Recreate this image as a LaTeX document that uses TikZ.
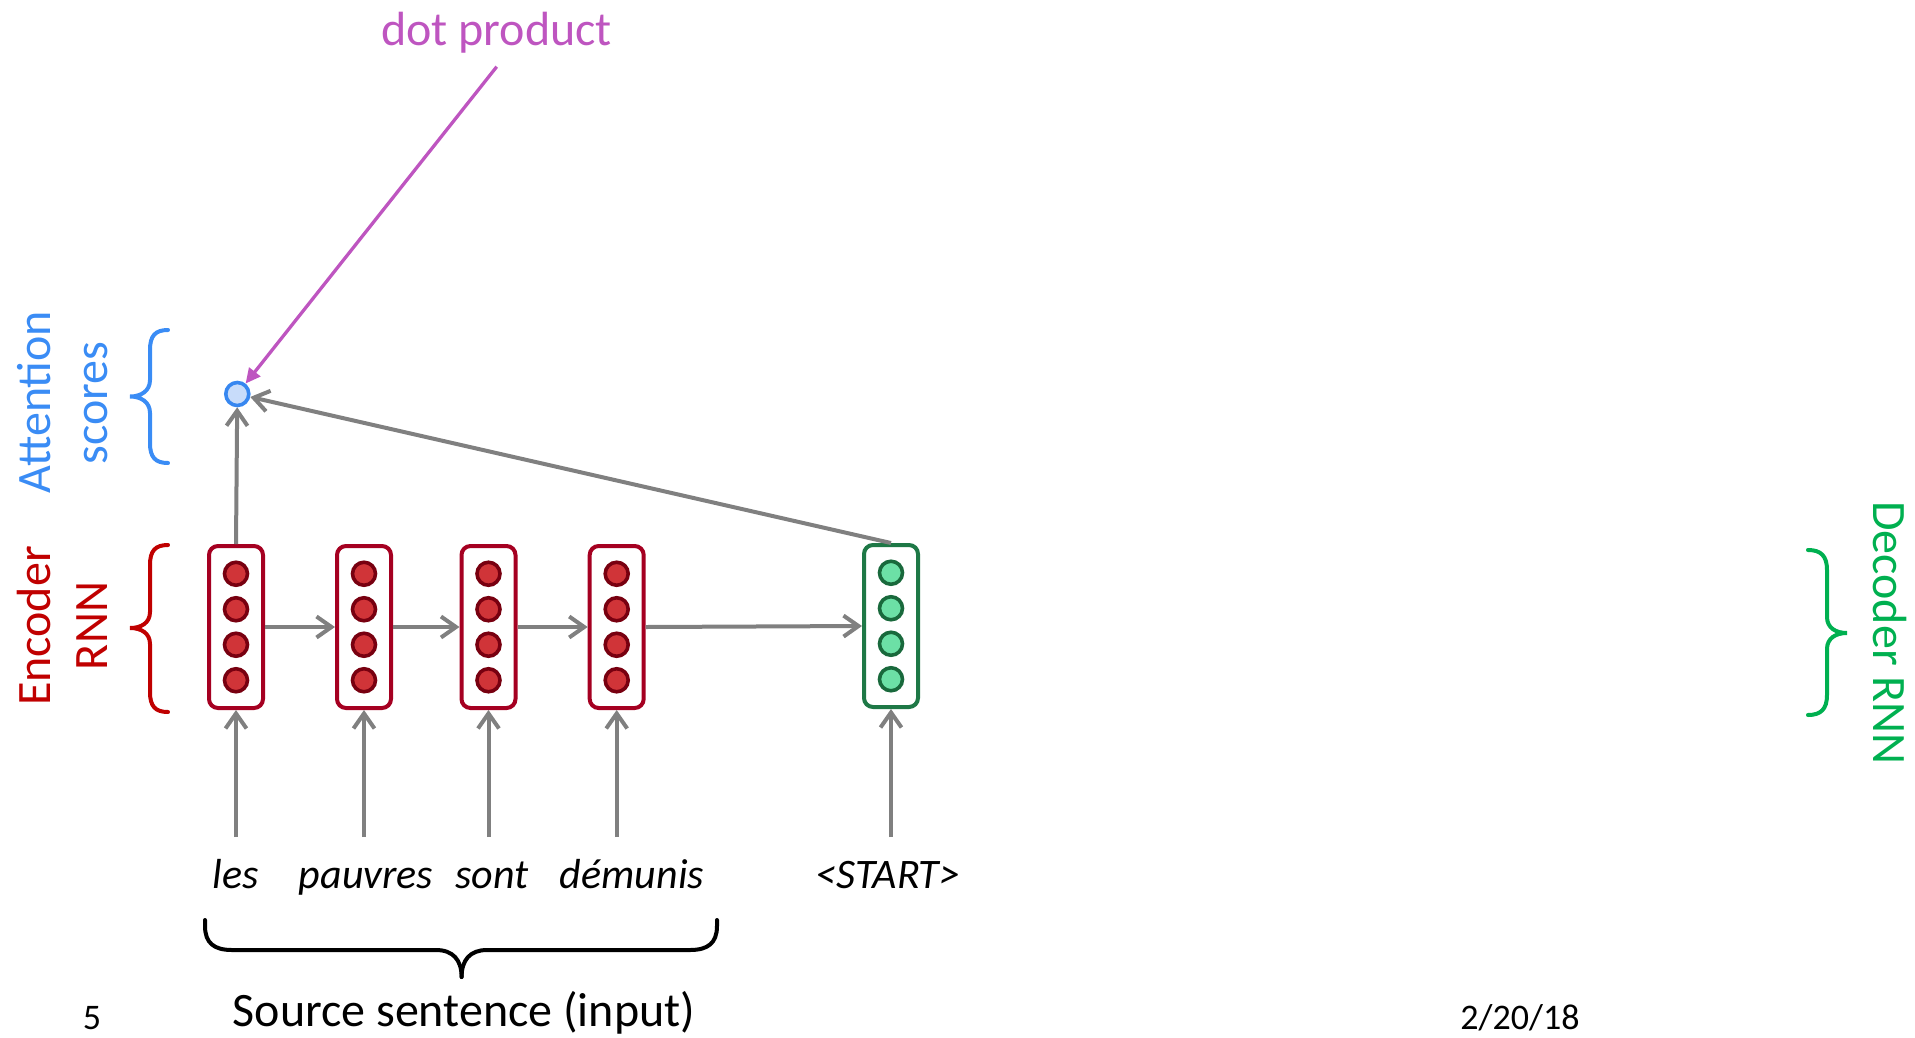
\documentclass[tikz,border=0pt]{standalone}
\usepackage{fontspec}
\setmainfont{Carlito}
\usetikzlibrary{arrows.meta}
\definecolor{encRed}{RGB}{165,0,33}
\definecolor{encFill}{RGB}{208,52,56}
\definecolor{encDot}{RGB}{120,0,16}
\definecolor{decGreen}{RGB}{30,120,70}
\definecolor{decFill}{RGB}{108,224,166}
\definecolor{decDot}{RGB}{25,105,60}
\definecolor{lblRed}{RGB}{192,0,0}
\definecolor{lblBlue}{RGB}{58,140,245}
\definecolor{lblGreen}{RGB}{0,176,80}
\definecolor{attFill}{RGB}{200,220,250}
\definecolor{attLine}{RGB}{55,135,240}
\definecolor{arrGray}{RGB}{128,128,128}
\definecolor{dotMag}{RGB}{190,85,192}
\begin{document}
\begin{tikzpicture}[x=1pt,y=-1pt,
  rnnbox/.style={draw, line width=4pt, rounded corners=9pt, minimum width=54pt, minimum height=162pt, inner sep=0pt, fill=white},
  encbox/.style={rnnbox, draw=encRed},
  decbox/.style={rnnbox, draw=decGreen},
  neuron/.style={circle, line width=3.6pt, minimum size=23pt, inner sep=0pt},
  encneuron/.style={neuron, draw=encDot, fill=encFill},
  decneuron/.style={neuron, draw=decDot, fill=decFill},
  attcircle/.style={circle, draw=attLine, fill=attFill, line width=3.6pt, minimum size=23pt, inner sep=0pt},
  flow/.style={draw=arrGray, line width=4pt, -{Straight Barb[length=15pt,width=21pt]}},
  brace/.style={line width=4pt, line cap=round},
  lbl/.style={font=\fontsize{48}{58}\selectfont, anchor=base, inner sep=0pt},
  word/.style={font=\fontsize{42}{50}\selectfont\itshape, anchor=base, inner sep=0pt},
  foot/.style={font=\fontsize{36}{44}\selectfont, anchor=base, inner sep=0pt}
]
\useasboundingbox (0,0) rectangle (1915,1037);

% encoder boxes
\foreach \n/\x in {1/236,2/364,3/488.5,4/616.7}{
  \node[encbox] (b\n) at (\x,627) {};
  \foreach \i/\y in {1/573.75,2/609.25,3/644.75,4/680.25}
    \node[encneuron] (b\n n\i) at (\x,\y) {};
}
% decoder box
\node[decbox] (dec) at (891,626) {};
\foreach \i/\y in {1/572.75,2/608.25,3/643.75,4/679.25}
  \node[decneuron] (decn\i) at (891,\y) {};

% attention score
\node[attcircle] (att) at (237.3,394) {};

% labels
\node[lbl, text=dotMag] (dotlbl) at (496.5,45) {dot product};
\node[lbl, text=lblBlue, rotate=90] (attlblA) at (50,402) {Attention};
\node[lbl, text=lblBlue, rotate=90] (attlblB) at (107,403) {scores};
\node[lbl, text=lblRed, rotate=90] (enclblA) at (50,626) {Encoder};
\node[lbl, text=lblRed, rotate=90] (enclblB) at (107,626) {RNN};
\node[lbl, text=lblGreen, rotate=-90] (declbl) at (1873,633) {Decoder RNN};
\node[lbl, text=black] (srclbl) at (464,1026) {Source sentence (input)};
\node[foot] (pagenum) at (92,1029) {5};
\node[foot] (datelbl) at (1520,1029) {2/20/18};

\node[word] (w1) at (236,888) {les};
\node[word] (w2) at (366,888) {pauvres};
\node[word] (w3) at (492,888) {sont};
\node[word] (w4) at (632,888) {démunis};
\node[word] (w5) at (888,888) {<START>};

% input arrows
\coordinate (in1) at (236,837);
\coordinate (in2) at (364,837);
\coordinate (in3) at (488.5,837);
\coordinate (in4) at (616.7,837);
\coordinate (in5) at (891,837);
\draw[flow] (in1) -- (b1.south);
\draw[flow] (in2) -- (b2.south);
\draw[flow] (in3) -- (b3.south);
\draw[flow] (in4) -- (b4.south);
\draw[flow] (in5) -- (dec.south);

% recurrent arrows
\draw[flow] (b1.east) -- (b2.west);
\draw[flow] (b2.east) -- (b3.west);
\draw[flow] (b3.east) -- (b4.west);
\draw[flow] (b4.east) -- (dec.west);

% attention arrows
\draw[flow] (b1.north) -- (att);
\draw[flow] (dec.north) -- (att);

% dot product arrow
\coordinate (dotstart) at (496.7,66.7);
\draw[dotMag, line width=3.3pt, -{Triangle[length=15pt,width=14pt]}] (dotstart) -- (att);

% braces
\draw[brace, lblBlue] (168,330) .. controls (155,330) and (150,336) .. (150,350) -- (150,380)
  .. controls (150,391) and (141,396.5) .. (130,396.5)
  .. controls (141,396.5) and (150,402) .. (150,413) -- (150,443)
  .. controls (150,457) and (155,463) .. (168,463);
\draw[brace, lblRed] (168,545) .. controls (155,545) and (150,551) .. (150,565) -- (150,612)
  .. controls (150,623) and (141,628) .. (130,628)
  .. controls (141,628) and (150,633) .. (150,644) -- (150,692)
  .. controls (150,706) and (155,712) .. (168,712);
\draw[brace, lblGreen] (1808,550) .. controls (1821,550) and (1827,556) .. (1827,570) -- (1827,617)
  .. controls (1827,628) and (1836,633) .. (1847,633)
  .. controls (1836,633) and (1827,638) .. (1827,649) -- (1827,695)
  .. controls (1827,709) and (1821,715) .. (1808,715);
\draw[brace, black] (205,920) -- (205,926) .. controls (205,943) and (214,950) .. (232,950) -- (436,950)
  .. controls (453,950) and (461.6,960) .. (461.6,977);
\draw[brace, black] (717,920) -- (717,926) .. controls (717,943) and (708,950) .. (690,950) -- (487,950)
  .. controls (470,950) and (461.6,960) .. (461.6,977);
\end{tikzpicture}
\end{document}
